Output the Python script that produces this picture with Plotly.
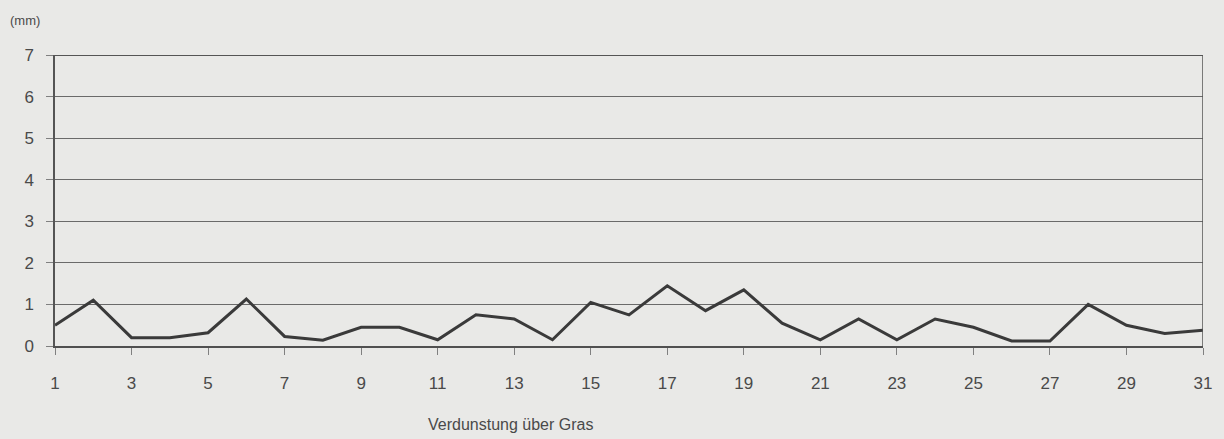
import plotly.graph_objects as go

days = list(range(1, 32))
evaporation_mm = [0.5, 1.1, 0.2, 0.2, 0.32, 1.13, 0.23, 0.14, 0.45, 0.45,
                  0.15, 0.75, 0.65, 0.15, 1.05, 0.75, 1.45, 0.85, 1.35, 0.55,
                  0.15, 0.65, 0.15, 0.65, 0.45, 0.12, 0.12, 1.0, 0.5, 0.3, 0.38]
x_ticks = list(range(1, 32, 2))
y_ticks = list(range(0, 8))

bg = "#e9e9e7"
txt = "#4a4a4a"
fig = go.Figure()
fig.add_trace(go.Scatter(x=days, y=evaporation_mm, mode="lines",
                         line=dict(color="#3a3a3a", width=3), showlegend=False))

fig.update_layout(
    width=1224, height=439,
    paper_bgcolor=bg, plot_bgcolor=bg,
    margin=dict(l=55, r=16, t=55, b=93),
    font=dict(family="Liberation Sans, Arial, sans-serif", color=txt, size=17),
    xaxis=dict(range=[1, 31], tickvals=x_ticks, showgrid=False, zeroline=False,
               showline=True, linecolor="#505050", linewidth=2,
               ticks="outside", ticklen=7, tickcolor="#808080", tickwidth=1,
               ticklabelstandoff=14,
               tickfont=dict(size=17, color=txt)),
    yaxis=dict(range=[0, 7], tickvals=y_ticks, showgrid=True, gridcolor="#6a6a6a",
               gridwidth=1, zeroline=False, showline=True, linecolor="#555555",
               linewidth=1.5, ticks="outside", ticklen=7, tickcolor="#808080",
               ticklabelstandoff=9,
               tickfont=dict(size=17, color=txt)),
    shapes=[dict(type="line", xref="x", yref="y", x0=31, x1=31, y0=0, y1=7,
                 line=dict(color="#555555", width=1.5)),
            dict(type="line", xref="x", yref="y", x0=1, x1=31, y0=7, y1=7,
                 line=dict(color="#555555", width=2))],
    annotations=[
        dict(text="(mm)", xref="paper", yref="paper", x=-0.041, y=1.12,
             xanchor="left", yanchor="middle", showarrow=False,
             font=dict(size=13, color=txt)),
        dict(text="Verdunstung über Gras", xref="paper", yref="paper", x=0.397,
             y=-0.27, xanchor="center", yanchor="middle", showarrow=False,
             font=dict(size=16, color=txt)),
    ],
)

fig.write_html("out.html", config={"displayModeBar": False},
               post_script="document.body.style.margin='0';document.body.style.overflow='hidden';")
